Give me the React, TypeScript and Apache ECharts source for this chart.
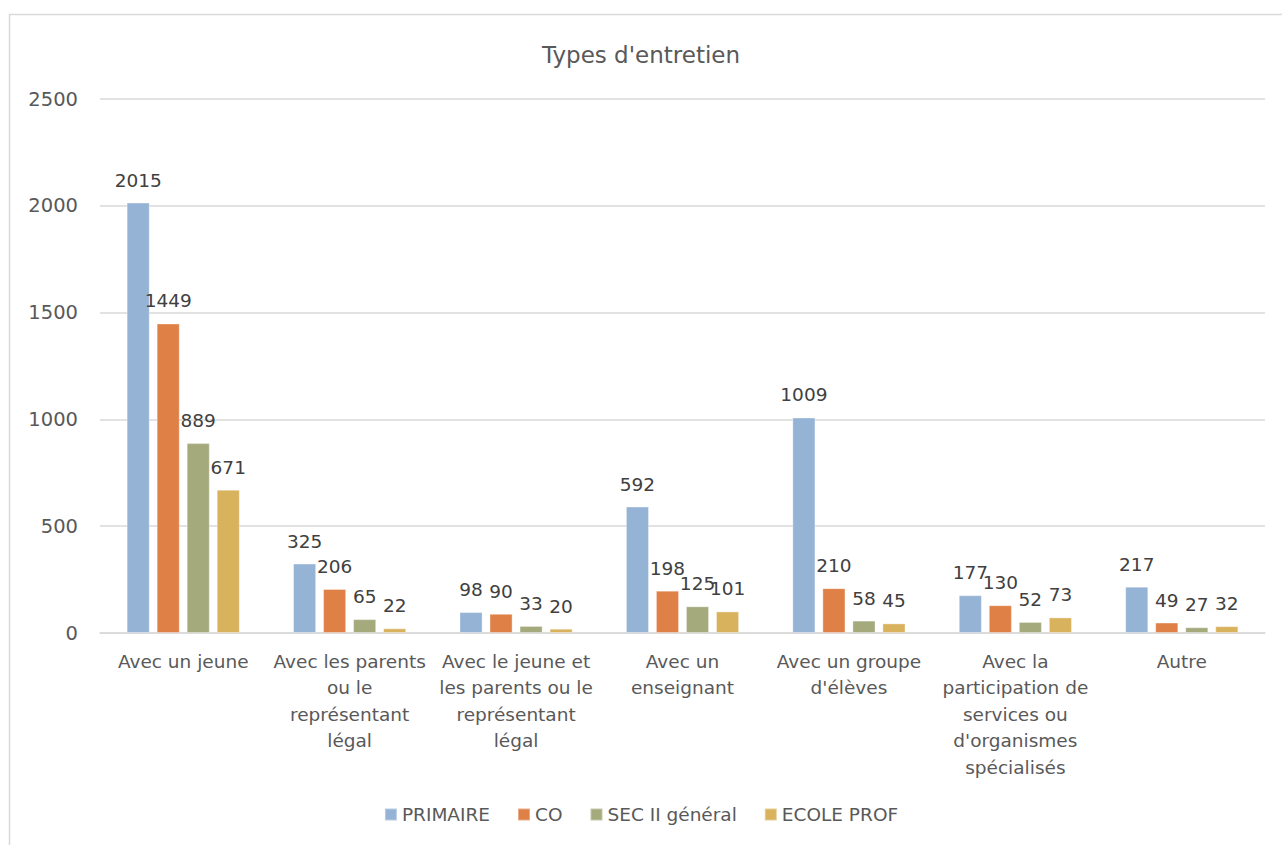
import React, { useEffect, useRef } from "react";
import * as echarts from "echarts";

const categories = [
  "Avec un jeune",
  "Avec les parents\nou le\nreprésentant\nlégal",
  "Avec le jeune et\nles parents ou le\nreprésentant\nlégal",
  "Avec un\nenseignant",
  "Avec un groupe\nd'élèves",
  "Avec la\nparticipation de\nservices ou\nd'organismes\nspécialisés",
  "Autre",
];
const seriesNames = ["PRIMAIRE", "CO", "SEC II général", "ECOLE PROF"];
const primaire = [2015, 325, 98, 592, 1009, 177, 217];
const co = [1449, 206, 90, 198, 210, 130, 49];
const sec2 = [889, 65, 33, 125, 58, 52, 27];
const ecoleProf = [671, 22, 20, 101, 45, 73, 32];
const colors = ["#95B3D4", "#DF8047", "#A5AA7D", "#D9B25E"];
const yTicks = [0, 500, 1000, 1500, 2000, 2500];

const FONT = "'DejaVu Sans', sans-serif";

export default function App() {
  const ref = useRef<HTMLDivElement>(null);
  useEffect(() => {
    if (!ref.current) return;
    const chart = echarts.init(ref.current, undefined, { renderer: "svg" });
    const data = [primaire, co, sec2, ecoleProf];
    chart.setOption({
      animation: false,
      textStyle: { fontFamily: FONT },
      title: {
        text: "Types d'entretien",
        left: "center",
        top: 38,
        textStyle: { fontFamily: FONT, fontSize: 23, fontWeight: "normal", color: "#595959" },
      },
      graphic: [
        {
          type: "rect",
          shape: { x: 9.5, y: 14.5, width: 1300, height: 900 },
          style: { fill: "none", stroke: "#D9D9D9", lineWidth: 1.5 },
          silent: true,
          z: -1,
        },
      ],
      legend: {
        bottom: 16,
        left: "center",
        itemWidth: 12,
        itemHeight: 12,
        itemGap: 27,
        icon: "rect",
        textStyle: { fontFamily: FONT, fontSize: 18.5, color: "#595959" },
        data: seriesNames,
      },
      grid: { left: 100, right: 17, top: 99, bottom: 212, containLabel: false },
      xAxis: {
        type: "category",
        data: categories,
        axisLine: { lineStyle: { color: "#D9D9D9", width: 1.5 } },
        axisTick: { show: false },
        axisLabel: {
          interval: 0,
          margin: 15,
          fontFamily: FONT,
          fontSize: 18.5,
          lineHeight: 26.5,
          color: "#595959",
        },
      },
      yAxis: {
        type: "value",
        min: yTicks[0],
        max: yTicks[yTicks.length - 1],
        interval: 500,
        axisLine: { show: false },
        axisTick: { show: false },
        splitLine: { lineStyle: { color: "#D9D9D9", width: 1.5 } },
        axisLabel: {
          margin: 22,
          fontFamily: FONT,
          fontSize: 19.5,
          color: "#595959",
          formatter: (v: number) => String(v),
        },
      },
      series: seriesNames.map((name, i) => ({
        name,
        type: "bar",
        data: data[i],
        barGap: "30%",
        barCategoryGap: "32%",
        itemStyle: { color: colors[i], borderColor: "rgba(255,255,255,0.35)", borderWidth: 1 },
        label: {
          show: true,
          position: "top",
          distance: 13,
          fontFamily: FONT,
          fontSize: 18.5,
          color: "#404040",
        },
      })),
    });
    return () => chart.dispose();
  }, []);
  return (
    <div
      ref={ref}
      style={{ position: "absolute", left: 0, top: 0, width: 1282, height: 845, background: "#fff" }}
    />
  );
}
